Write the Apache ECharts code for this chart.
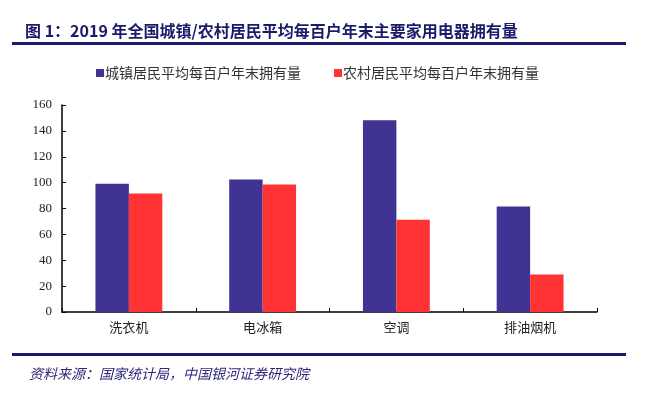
<!DOCTYPE html>
<html>
<head>
<meta charset="utf-8">
<script src="https://cdn.jsdelivr.net/npm/echarts@6/dist/echarts.min.js"></script>
<style>
html,body{margin:0;padding:0;background:#fff;}
#chart{width:650px;height:393px;}
</style>
</head>
<body>
<div id="chart"></div>
<script>
var categories = ['洗衣机', '电冰箱', '空调', '排油烟机'];
var urbanValues = [99.2, 102.5, 148.3, 81.6];
var ruralValues = [91.6, 98.6, 71.3, 29.0];
var seriesNames = ['城镇居民平均每百户年末拥有量', '农村居民平均每百户年末拥有量'];
var yTicks = [0, 20, 40, 60, 80, 100, 120, 140, 160];
var titleText = '图 1：2019 年全国城镇/农村居民平均每百户年末主要家用电器拥有量';
var sourceText = '资料来源：国家统计局，中国银河证券研究院';

var chart = echarts.init(document.getElementById('chart'), null, {renderer: 'canvas'});
var navy = '#1c1a6b';
chart.setOption({
  backgroundColor: '#fff',
  animation: false,
  title: [
    {
      text: titleText,
      left: 20, top: 18,
      textStyle: {fontFamily: '"Noto Sans CJK SC", "Liberation Serif", serif', fontSize: 16, fontWeight: 'bold', color: navy}
    },
    {
      text: sourceText,
      left: 24, top: 362,
      textStyle: {fontFamily: '"Noto Sans CJK SC", serif', fontSize: 14, fontStyle: 'italic', fontWeight: 'normal', color: '#2e2a78'}
    }
  ],
  graphic: [
    {type: 'rect', shape: {x: 12, y: 42, width: 614, height: 3}, style: {fill: navy}},
    {type: 'rect', shape: {x: 12, y: 353, width: 614, height: 3}, style: {fill: navy}}
  ],
  legend: {
    data: seriesNames,
    left: 91, top: 61,
    icon: 'rect', itemWidth: 8, itemHeight: 8, itemGap: 33,
    textStyle: {fontFamily: '"Noto Sans CJK SC", sans-serif', fontSize: 14, color: '#333', padding: [0, 0, 0, -4]}
  },
  grid: {left: 62, right: 53, top: 105, bottom: 81, containLabel: false},
  xAxis: {
    type: 'category',
    data: categories,
    axisLine: {lineStyle: {color: '#000', width: 1.5}},
    axisTick: {show: true, inside: true, length: 4, alignWithLabel: false, lineStyle: {color: '#000'}},
    axisLabel: {margin: 9, fontFamily: '"Noto Sans CJK SC", serif', fontSize: 13, color: '#222'}
  },
  yAxis: {
    type: 'value',
    min: 0, max: 160, interval: 20,
    axisLine: {show: true, lineStyle: {color: '#000', width: 1.5}},
    axisTick: {show: true, inside: true, length: 4, lineStyle: {color: '#000'}},
    splitLine: {show: false},
    axisLabel: {
      margin: 10,
      fontFamily: '"Liberation Serif", "Times New Roman", serif', fontSize: 13, color: '#222',
      formatter: function (v) { return yTicks.indexOf(v) >= 0 ? String(v) : ''; }
    }
  },
  series: [
    {name: seriesNames[0], type: 'bar', data: urbanValues, barGap: '0%', barCategoryGap: '50%', itemStyle: {color: '#3f3394'}},
    {name: seriesNames[1], type: 'bar', data: ruralValues, barGap: '0%', barCategoryGap: '50%', itemStyle: {color: '#ff3333'}}
  ]
});
</script>
</body>
</html>
